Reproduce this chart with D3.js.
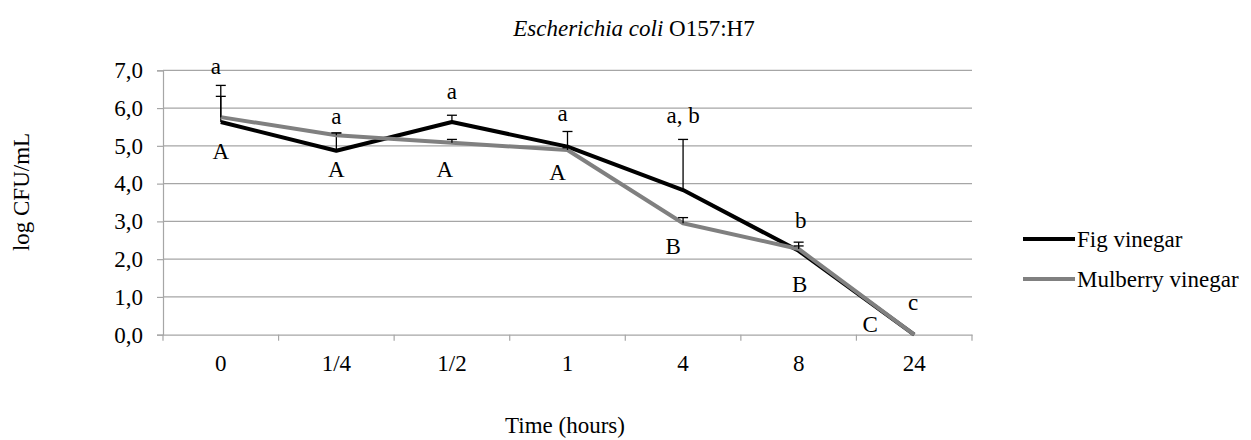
<!DOCTYPE html>
<html>
<head>
<meta charset="utf-8">
<script src="https://cdn.jsdelivr.net/npm/d3@7"></script>
<style>
  html, body { margin: 0; padding: 0; background: #fff; }
  svg { display: block; }
  svg text { font-family: "Liberation Serif", "Times New Roman", serif !important; fill: #000; }
</style>
</head>
<body>
<svg id="chart" width="1251" height="440"></svg>
<script>
// ---- data ----
const categories = ["0", "1/4", "1/2", "1", "4", "8", "24"];
const figValues = [5.63, 4.87, 5.63, 4.98, 3.83, 2.22, 0.0];
const figSD = [0.97, 0.47, 0.18, 0.40, 1.34, 0.23, 0.0];
const mulberryValues = [5.76, 5.28, 5.08, 4.89, 2.95, 2.27, 0.0];
const mulberrySD = [0.55, 0.06, 0.09, 0.06, 0.15, 0.08, 0.0];
const yTicks = [0, 1, 2, 3, 4, 5, 6, 7];
const seriesNames = ["Fig vinegar", "Mulberry vinegar"];
// significance letters (text) and their anchor values
const upperLetters = ["a", "a", "a", "a", "a, b", "b", "c"];
const upperLetterY = [6.90, 5.58, 6.24, 5.66, 5.61, 2.83, 0.66];
const lowerLetters = ["A", "A", "A", "A", "B", "B", "C"];
const lowerLetterY = [4.66, 4.18, 4.18, 4.10, 2.14, 1.14, 0.08];

// ---- layout ----
const plot = { left: 163, right: 972, top: 70.3, bottom: 334.7 };
const upperDx = [-5, 0, 0, -5, 0, 2, -1];
const lowerDx = [0, 0, -7, -10, -10, 1, -44];
const FS = 23;
const FF = '"Liberation Serif", "Times New Roman", serif';

const svg = d3.select("#chart");
const x = d3.scaleBand().domain(categories).range([plot.left, plot.right]).padding(0);
const y = d3.scaleLinear().domain([0, 7]).range([plot.bottom, plot.top]);
const cx = c => x(c) + x.bandwidth() / 2;
const fmt = d => d3.format(".1f")(d).replace(".", ",");

const gridColor = "#a6a6a6";

// gridlines
svg.append("g").selectAll("line").data(yTicks.filter(t => t > 0)).join("line")
  .attr("x1", plot.left).attr("x2", plot.right)
  .attr("y1", d => y(d)).attr("y2", d => y(d))
  .attr("stroke", gridColor).attr("stroke-width", 1.2);

// y axis
const yAxis = svg.append("g").attr("transform", `translate(${plot.left},0)`)
  .call(d3.axisLeft(y).tickValues(yTicks).tickFormat(fmt).tickSize(6).tickPadding(14));
yAxis.attr("font-family", null).attr("font-size", null);
yAxis.select(".domain").attr("stroke", gridColor).attr("stroke-width", 1.2);
yAxis.selectAll(".tick line").attr("stroke", gridColor).attr("stroke-width", 1.2);
yAxis.selectAll(".tick text").style("font-size", FS + "px").style("font-family", FF).attr("fill", "#000");

// x axis
const xAxis = svg.append("g").attr("transform", `translate(0,${plot.bottom})`)
  .call(d3.axisBottom(x).tickSize(0).tickPadding(20));
xAxis.attr("font-family", null).attr("font-size", null);
xAxis.select(".domain").attr("stroke", gridColor).attr("stroke-width", 1.2);
xAxis.selectAll(".tick text").style("font-size", FS + "px").style("font-family", FF).attr("fill", "#000");
// x tick marks at band boundaries
const bounds = categories.map(c => x(c)).concat([plot.right]);
svg.append("g").selectAll("line").data(bounds).join("line")
  .attr("x1", d => d).attr("x2", d => d)
  .attr("y1", plot.bottom).attr("y2", plot.bottom + 6)
  .attr("stroke", gridColor).attr("stroke-width", 1.2);

// series
const series = [
  { name: seriesNames[0], values: figValues, sd: figSD, color: "#000000" },
  { name: seriesNames[1], values: mulberryValues, sd: mulberrySD, color: "#808080" }
];
const line = d3.line().x(d => cx(d.c)).y(d => y(d.v));

series.forEach(s => {
  const pts = categories.map((c, i) => ({ c, v: s.values[i], sd: s.sd[i] }));
  svg.append("path").datum(pts)
    .attr("d", line).attr("fill", "none")
    .attr("stroke", s.color).attr("stroke-width", 4).attr("stroke-linejoin", "round");
  const eb = svg.append("g");
  const ebPts = pts.filter(p => p.sd > 0);
  eb.selectAll("line.v").data(ebPts).join("line")
    .attr("x1", d => cx(d.c)).attr("x2", d => cx(d.c))
    .attr("y1", d => y(d.v)).attr("y2", d => y(d.v + d.sd))
    .attr("stroke", "#000").attr("stroke-width", 1.3);
  eb.selectAll("line.h").data(ebPts).join("line")
    .attr("x1", d => cx(d.c) - 5).attr("x2", d => cx(d.c) + 5)
    .attr("y1", d => y(d.v + d.sd)).attr("y2", d => y(d.v + d.sd))
    .attr("stroke", "#000").attr("stroke-width", 1.3);
});

// significance letters
svg.append("g").selectAll("text").data(categories).join("text")
  .attr("x", (c, i) => cx(c) + upperDx[i]).attr("y", (c, i) => y(upperLetterY[i]))
  .attr("text-anchor", "middle").style("font-size", FS + "px")
  .text((c, i) => upperLetters[i]);
svg.append("g").selectAll("text").data(categories).join("text")
  .attr("x", (c, i) => cx(c) + lowerDx[i]).attr("y", (c, i) => y(lowerLetterY[i]))
  .attr("text-anchor", "middle").style("font-size", FS + "px")
  .text((c, i) => lowerLetters[i]);

// title
const title = svg.append("text").attr("x", 634).attr("y", 36)
  .attr("text-anchor", "middle").style("font-size", FS + "px");
title.append("tspan").attr("font-style", "italic").text("Escherichia coli");
title.append("tspan").text(" O157:H7");

// axis titles
svg.append("text").attr("transform", "translate(29,192) rotate(-90)")
  .attr("text-anchor", "middle").style("font-size", FS + "px").text("log CFU/mL");
svg.append("text").attr("x", 565).attr("y", 433)
  .attr("text-anchor", "middle").style("font-size", FS + "px").text("Time (hours)");

// legend
const legend = svg.append("g");
series.forEach((s, i) => {
  const ly = 239 + i * 40;
  legend.append("line").attr("x1", 1023).attr("x2", 1075).attr("y1", ly).attr("y2", ly)
    .attr("stroke", s.color).attr("stroke-width", 4);
  legend.append("text").attr("x", 1077).attr("y", ly).attr("dy", "0.35em")
    .style("font-size", FS + "px").text(s.name);
});
</script>
</body>
</html>
